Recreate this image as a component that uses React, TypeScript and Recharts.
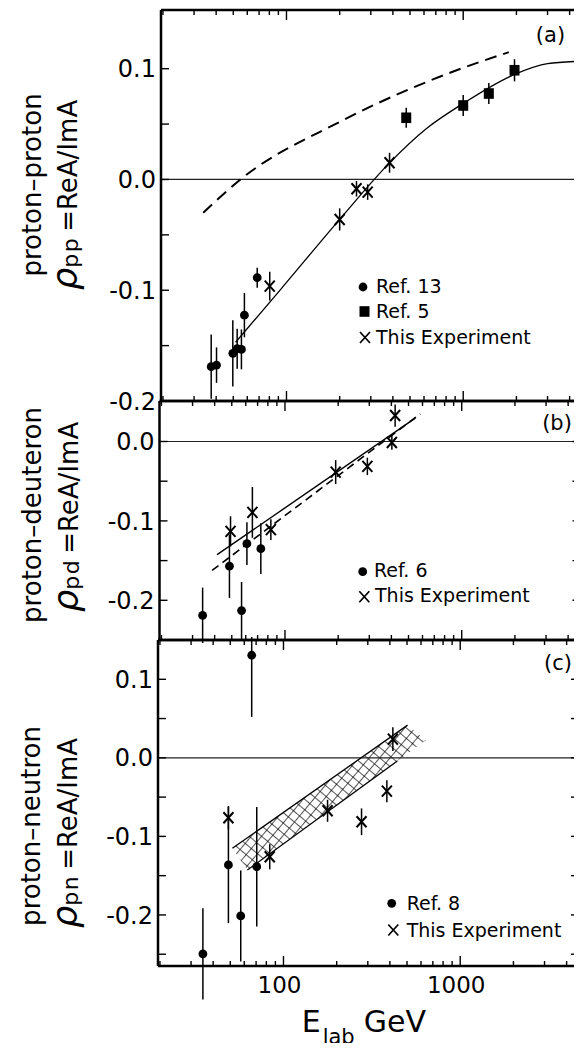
import React from "react";
import {
  Area,
  ComposedChart,
  ErrorBar,
  Line,
  ReferenceLine,
  Scatter,
  XAxis,
  YAxis,
} from "recharts";

// x axis (E_lab, GeV, log scale)
const xDomain = [19.5, 4700];
const xTicks = [20, 30, 40, 50, 60, 70, 80, 90, 100, 200, 300, 400, 500, 600, 700, 800, 900, 1000, 2000, 3000, 4000];
const xMajor = [100, 1000];

// (a) proton-proton
const ppYDomain = [-0.2, 0.153];
const ppYTicks = [0.1, 0.05, 0, -0.05, -0.1, -0.15, -0.2];
const ppYLabels = [0.1, 0, -0.1, -0.2];
const ppRef13 = [
  { E: 37.5, rho: -0.169, err: 0.029 },
  { E: 40.2, rho: -0.1676, err: 0.016 },
  { E: 49.7, rho: -0.157, err: 0.03 },
  { E: 52.6, rho: -0.1528, err: 0.018 },
  { E: 55.6, rho: -0.1534, err: 0.018 },
  { E: 57.8, rho: -0.1225, err: 0.02 },
  { E: 68.3, rho: -0.0887, err: 0.009 },
];
const ppRef5 = [
  { E: 476, rho: 0.0557, err: 0.009 },
  { E: 1000, rho: 0.0668, err: 0.0095 },
  { E: 1396, rho: 0.0776, err: 0.0095 },
  { E: 1951, rho: 0.0986, err: 0.01 },
];
const ppThis = [
  { E: 80.4, rho: -0.0963, err: 0.013 },
  { E: 200, rho: -0.0361, err: 0.01 },
  { E: 249, rho: -0.0084, err: 0.007 },
  { E: 288, rho: -0.0114, err: 0.007 },
  { E: 383, rho: 0.0151, err: 0.009 },
];
const ppFit = [
  { E: 51.5, rho: -0.147 },
  { E: 92.5, rho: -0.0994 },
  { E: 200, rho: -0.036 },
  { E: 383, rho: 0.015 },
  { E: 620, rho: 0.046 },
  { E: 1000, rho: 0.0686 },
  { E: 1951, rho: 0.0948 },
  { E: 3000, rho: 0.1045 },
  { E: 4700, rho: 0.1068 },
];
const ppDashed = [
  { E: 33.8, rho: -0.03 },
  { E: 54.9, rho: 0.0 },
  { E: 200, rho: 0.052 },
  { E: 1000, rho: 0.1008 },
  { E: 1811, rho: 0.1149 },
];

// (b) proton-deuteron
const pdYDomain = [-0.25, 0.051];
const pdYTicks = [0, -0.05, -0.1, -0.15, -0.2];
const pdYLabels = [0, -0.1, -0.2];
const pdRef6 = [
  { E: 34.2, rho: -0.219, err: 0.035 },
  { E: 48.5, rho: -0.157, err: 0.04 },
  { E: 56.8, rho: -0.213, err: 0.036 },
  { E: 60.9, rho: -0.1287, err: 0.027 },
  { E: 73, rho: -0.135, err: 0.032 },
];
const pdThis = [
  { E: 49.2, rho: -0.1132, err: 0.019 },
  { E: 65.4, rho: -0.0893, err: 0.032 },
  { E: 83.2, rho: -0.111, err: 0.013 },
  { E: 193.6, rho: -0.0385, err: 0.015 },
  { E: 292.5, rho: -0.0314, err: 0.011 },
  { E: 402.5, rho: -0.0013, err: 0.009 },
  { E: 420, rho: 0.0327, err: 0.014 },
];
const pdFit = [
  { E: 41.3, rho: -0.1425 },
  { E: 546, rho: 0.0294 },
];
const pdDashed = [
  { E: 38.7, rho: -0.1623 },
  { E: 583, rho: 0.0348 },
];

// (c) proton-neutron
const pnYDomain = [-0.265, 0.15];
const pnYTicks = [0.1, 0.05, 0, -0.05, -0.1, -0.15, -0.2, -0.25];
const pnYLabels = [0.1, 0, -0.1, -0.2];
const pnRef8 = [
  { E: 35, rho: -0.2496, err: 0.058 },
  { E: 48.8, rho: -0.1364, err: 0.074 },
  { E: 57.3, rho: -0.2013, err: 0.058 },
  { E: 66.1, rho: 0.1306, err: 0.0785 },
  { E: 70.6, rho: -0.1386, err: 0.076 },
];
const pnThis = [
  { E: 48.8, rho: -0.0763, err: 0.015 },
  { E: 83.6, rho: -0.1259, err: 0.016 },
  { E: 177.6, rho: -0.0674, err: 0.014 },
  { E: 276.5, rho: -0.0814, err: 0.017 },
  { E: 384.6, rho: -0.0424, err: 0.014 },
  { E: 415.8, rho: 0.0238, err: 0.015 },
];
const pnBand = [
  { E: 51.4, band: [-0.1152, -0.1152] },
  { E: 62.5, band: [-0.1428, -0.1017] },
  { E: 503.6, band: [0.0056, 0.0416] },
  { E: 639.5, band: [0.0225, 0.0225] },
];
const pnUpper = [
  { E: 51.4, rho: -0.1152 },
  { E: 503.6, rho: 0.0416 },
];
const pnLower = [
  { E: 62.5, rho: -0.1428 },
  { E: 441, rho: -0.004 },
];

const FONT = "'DejaVu Sans', Verdana, sans-serif";
const CHART_W = 584;
const PLOT_W = 421;

const isIn = (list: number[], v: number) => list.some((t) => Math.abs(t - v) < 1e-9);
const fmt = (v: number) => (Math.abs(v) < 1e-9 ? "0.0" : v.toFixed(1));

function XTick(props: any) {
  const { x, y, payload, side, labels } = props;
  const v = payload.value;
  const major = isIn(xMajor, v);
  const len = major ? 10 : 5;
  const dir = side === "bottom" ? -1 : 1;
  return (
    <g>
      <line x1={x} y1={y} x2={x} y2={y + dir * len} stroke="#000" strokeWidth={1.4} />
      {labels && major && (
        <text x={x - 4} y={y + 27} textAnchor="middle" fontSize={23} fontFamily={FONT} fill="#000">
          {v}
        </text>
      )}
    </g>
  );
}

function YTick(props: any) {
  const { x, y, payload, side, labels } = props;
  const v = payload.value;
  const dir = side === "left" ? 1 : -1;
  return (
    <g>
      <line x1={x} y1={y} x2={x + dir * 8} y2={y} stroke="#000" strokeWidth={1.4} />
      {side === "left" && isIn(labels, v) && (
        <text x={x - 5} y={y} dy="0.36em" textAnchor="end" fontSize={24} fontFamily={FONT} fill="#000">
          {fmt(v)}
        </text>
      )}
    </g>
  );
}

const Dot = (p: any) => <circle cx={p.cx} cy={p.cy} r={4.4} fill="#000" />;
const Square = (p: any) => <rect x={p.cx - 5} y={p.cy - 5.3} width={10} height={10.6} fill="#000" />;
const Cross = (p: any) => {
  const s = p.half ?? 5;
  const w = p.sw ?? 2;
  return (
    <path
      d={`M${p.cx - s},${p.cy - s * 1.1}L${p.cx + s},${p.cy + s * 1.1}M${p.cx + s},${p.cy - s * 1.1}L${p.cx - s},${p.cy + s * 1.1}`}
      stroke="#000"
      strokeWidth={w}
      fill="none"
    />
  );
};

type PanelProps = {
  top: number;
  height: number;
  mTop: number;
  mBottom: number;
  left: number;
  yDomain: number[];
  yTicks: number[];
  yLabels: number[];
  xLabels?: boolean;
  children: React.ReactNode;
};

// axes are 1px thick so Recharts draws them; margins are reduced by 1 to compensate
function Panel({ top, height, mTop, mBottom, left, yDomain, yTicks, yLabels, xLabels, children }: PanelProps) {
  const frame = { stroke: "#000", strokeWidth: 2.5 };
  const right = CHART_W - left - PLOT_W;
  return (
    <div style={{ position: "absolute", left: 0, top }}>
      <ComposedChart
        width={CHART_W}
        height={height}
        margin={{ top: mTop - 1, bottom: mBottom - 1, left: left - 1, right: right - 1 }}
      >
        <XAxis
          xAxisId="b"
          dataKey="E"
          type="number"
          scale="log"
          domain={xDomain}
          allowDataOverflow
          ticks={xTicks}
          interval={0}
          height={1}
          tickSize={0}
          tickMargin={0}
          axisLine={frame}
          tickLine={false}
          tick={(p: any) => <XTick {...p} side="bottom" labels={xLabels} />}
        />
        <XAxis
          xAxisId="t"
          orientation="top"
          dataKey="E"
          type="number"
          scale="log"
          domain={xDomain}
          allowDataOverflow
          ticks={xTicks}
          interval={0}
          height={1}
          tickSize={0}
          tickMargin={0}
          axisLine={frame}
          tickLine={false}
          tick={(p: any) => <XTick {...p} side="top" />}
        />
        <YAxis
          yAxisId="l"
          type="number"
          domain={yDomain}
          allowDataOverflow
          ticks={yTicks}
          interval={0}
          width={1}
          tickSize={0}
          tickMargin={0}
          axisLine={frame}
          tickLine={false}
          tick={(p: any) => <YTick {...p} side="left" labels={yLabels} />}
        />
        <YAxis
          yAxisId="r"
          orientation="right"
          type="number"
          domain={yDomain}
          allowDataOverflow
          ticks={yTicks}
          interval={0}
          width={1}
          tickSize={0}
          tickMargin={0}
          axisLine={frame}
          tickLine={false}
          tick={(p: any) => <YTick {...p} side="right" labels={yLabels} />}
        />
        <ReferenceLine xAxisId="b" yAxisId="l" y={0} stroke="#222" strokeWidth={1.2} />
        {children}
      </ComposedChart>
    </div>
  );
}

const ax = { xAxisId: "b", yAxisId: "l" } as const;

function ErrBars() {
  return <ErrorBar dataKey="err" direction="y" width={0} stroke="#000" strokeWidth={1.5} isAnimationActive={false} />;
}

function YTitle({ x1, x2, cy, start, l1, sub }: { x1: number; x2: number; cy: number; start: number; l1: string; sub: string }) {
  return (
    <g fontFamily={FONT} fill="#000">
      <text transform={`translate(${x1},${cy}) rotate(-90)`} textAnchor="middle" fontSize={26}>
        {l1}
      </text>
      <text transform={`translate(${x2},${start}) rotate(-90)`} textAnchor="start" fontSize={26}>
        <tspan fontSize={35} fontStyle="italic">ρ</tspan>
        <tspan fontSize={22} dy={1} letterSpacing={1.5}>{sub}</tspan>
        <tspan dy={-1} dx={5}>=ReA/ImA</tspan>
      </text>
    </g>
  );
}

export default function App() {
  return (
    <div style={{ position: "relative", width: 582, height: 1051, margin: -8, overflow: "hidden", background: "#fff" }}>
      <svg width={0} height={0} style={{ position: "absolute" }}>
        <defs>
          <pattern id="hatch" width={8} height={8} patternUnits="userSpaceOnUse" patternTransform="rotate(40)">
            <path d="M0,0.4H8M0.4,0V8" stroke="#000" strokeWidth={0.75} />
          </pattern>
        </defs>
      </svg>

      <Panel top={637} height={414} mTop={3} mBottom={85} left={158} yDomain={pnYDomain} yTicks={pnYTicks} yLabels={pnYLabels} xLabels>
        <Area {...ax} data={pnBand} dataKey="band" type="linear" stroke="none" fill="url(#hatch)" fillOpacity={1} dot={false} activeDot={false} isAnimationActive={false} />
        <Line {...ax} data={pnUpper} dataKey="rho" type="linear" stroke="#000" strokeWidth={1.3} dot={false} activeDot={false} isAnimationActive={false} />
        <Line {...ax} data={pnLower} dataKey="rho" type="linear" stroke="#000" strokeWidth={1.3} dot={false} activeDot={false} isAnimationActive={false} />
        <Scatter {...ax} data={pnRef8} dataKey="rho" shape={Dot} isAnimationActive={false}>
          {ErrBars()}
        </Scatter>
        <Scatter {...ax} data={pnThis} dataKey="rho" shape={Cross} isAnimationActive={false}>
          {ErrBars()}
        </Scatter>
      </Panel>

      <Panel top={398} height={245} mTop={3} mBottom={3} left={159.5} yDomain={pdYDomain} yTicks={pdYTicks} yLabels={pdYLabels}>
        <Line {...ax} data={pdDashed} dataKey="rho" type="linear" stroke="#000" strokeWidth={1.6} strokeDasharray="8 5" dot={false} activeDot={false} isAnimationActive={false} />
        <Line {...ax} data={pdFit} dataKey="rho" type="linear" stroke="#000" strokeWidth={1.4} dot={false} activeDot={false} isAnimationActive={false} />
        <Scatter {...ax} data={pdRef6} dataKey="rho" shape={Dot} isAnimationActive={false}>
          {ErrBars()}
        </Scatter>
        <Scatter {...ax} data={pdThis} dataKey="rho" shape={Cross} isAnimationActive={false}>
          {ErrBars()}
        </Scatter>
      </Panel>

      <Panel top={0} height={416} mTop={10} mBottom={15} left={161} yDomain={ppYDomain} yTicks={ppYTicks} yLabels={ppYLabels}>
        <Line {...ax} data={ppDashed} dataKey="rho" type="monotone" stroke="#000" strokeWidth={2} strokeDasharray="12 7" dot={false} activeDot={false} isAnimationActive={false} />
        <Line {...ax} data={ppFit} dataKey="rho" type="monotone" stroke="#000" strokeWidth={1.3} dot={false} activeDot={false} isAnimationActive={false} />
        <Scatter {...ax} data={ppRef13} dataKey="rho" shape={Dot} isAnimationActive={false}>
          {ErrBars()}
        </Scatter>
        <Scatter {...ax} data={ppRef5} dataKey="rho" shape={Square} isAnimationActive={false}>
          {ErrBars()}
        </Scatter>
        <Scatter {...ax} data={ppThis} dataKey="rho" shape={Cross} isAnimationActive={false}>
          {ErrBars()}
        </Scatter>
      </Panel>

      <svg width={582} height={1051} style={{ position: "absolute", left: 0, top: 0, pointerEvents: "none" }}>
        <YTitle x1={41} x2={77} cy={185} start={290} l1="proton–proton" sub="pp" />
        <YTitle x1={41} x2={78} cy={515} start={612} l1="proton–deuteron" sub="pd" />
        <YTitle x1={40} x2={77} cy={826} start={928} l1="proton–neutron" sub="pn" />

        <g fontFamily={FONT} fontSize={21} fill="#000" textAnchor="middle">
          <text x={550.5} y={41.5}>(a)</text>
          <text x={557} y={430}>(b)</text>
          <text x={558} y={670}>(c)</text>
        </g>

        <g fontFamily={FONT} fontSize={19} fill="#000">
          <Dot cx={363} cy={287} />
          <text x={376} y={293}>Ref. 13</text>
          <Square cx={364.5} cy={311.5} />
          <text x={376} y={318}>Ref. 5</text>
          <Cross cx={365} cy={337.5} half={5} sw={1.7} />
          <text x={376} y={344}>This Experiment</text>

          <Dot cx={362.7} cy={571.7} />
          <text x={374} y={577}>Ref. 6</text>
          <Cross cx={364.3} cy={596.7} half={5} sw={1.7} />
          <text x={375} y={602}>This Experiment</text>

          <Dot cx={391.7} cy={903.3} />
          <text x={406.7} y={910}>Ref. 8</text>
          <Cross cx={393.3} cy={930} half={5} sw={1.7} />
          <text x={406.7} y={937}>This Experiment</text>
        </g>

        <text x={301.7} y={1032} fontFamily={FONT} fontSize={30} fill="#000">
          E
          <tspan fontSize={21} dy={12} dx={2}>lab</tspan>
          <tspan dy={-12} dx={9}>GeV</tspan>
        </text>
      </svg>
    </div>
  );
}
